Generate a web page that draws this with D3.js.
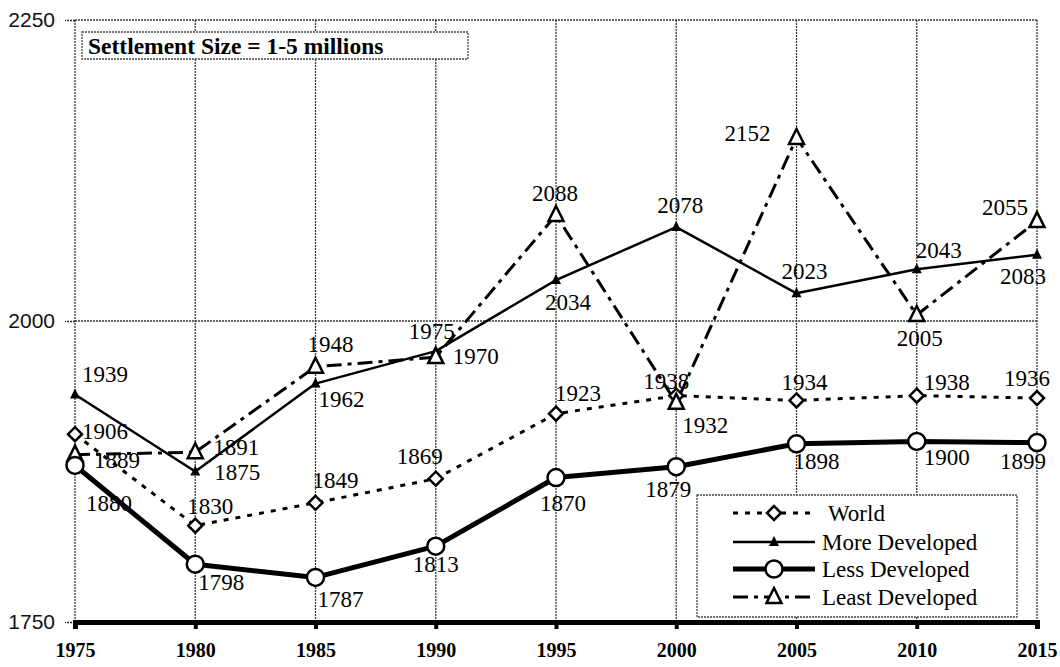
<!DOCTYPE html>
<html>
<head>
<meta charset="utf-8">
<script src="https://cdn.jsdelivr.net/npm/d3@7/dist/d3.min.js"></script>
<style>
  html, body { margin: 0; padding: 0; background: #fff; }
  svg { display: block; }
</style>
</head>
<body>
<svg id="chart" width="1060" height="667"></svg>
<script>
// ---- data ----
const years = [1975, 1980, 1985, 1990, 1995, 2000, 2005, 2010, 2015];
const world          = [1906, 1830, 1849, 1869, 1923, 1938, 1934, 1938, 1936];
const moreDeveloped  = [1939, 1875, 1948, 1975, 2034, 2078, 2023, 2043, 2055];
const lessDeveloped  = [1880, 1798, 1787, 1813, 1870, 1879, 1898, 1900, 1899];
const leastDeveloped = [1889, 1891, 1962, 1970, 2088, 1932, 2152, 2005, 2083];
const seriesNames = ["World", "More Developed", "Less Developed", "Least Developed"];
const yTicks = [1750, 2000, 2250];
const xTickLabels = ["1975", "1980", "1985", "1990", "1995", "2000", "2005", "2010", "2015"];
const titleText = "Settlement Size = 1-5 millions";

// ---- label placement (pixel offsets of each value label from its point) ----
const worldLabelOffsets = [[30,-3],[15,-20],[20,-23],[-16,-23],[22,-21],[-10,-15],[8,-19],[30,-14],[-10,-20]];
const moreLabelOffsets  = [[30,-20],[42,0],[15,-40],[-4,-20],[12,22],[4,-22],[8,-22],[22,-19],[-32,-48]];
const lessLabelOffsets  = [[34,37],[26,18],[25,21],[0,18],[7,25],[-8,22],[20,17],[30,16],[-14,18]];
const leastLabelOffsets = [[42,5],[41,-5],[26,32],[40,-1],[-1,-22],[29,22],[-49,-5],[3,23],[-14,55]];

// ---- layout ----
const plot = { left: 75, right: 1037, top: 20, bottom: 622 };
const serif = "'Liberation Serif', 'Times New Roman', serif";
const sans = "'Liberation Sans', Arial, sans-serif";

const svg = d3.select("#chart");
const x = d3.scaleLinear().domain([1975, 2015]).range([plot.left, plot.right]);
const y = d3.scaleLinear().domain([1750, 2250]).range([plot.bottom, plot.top]);

// ---- grid ----
const grid = svg.append("g").attr("stroke", "#3a3a3a").attr("stroke-width", 1.3)
  .attr("stroke-dasharray", "2,1").attr("fill", "none");
grid.selectAll("line.v").data(years).join("line").attr("class", "v")
  .attr("x1", d => x(d)).attr("x2", d => x(d))
  .attr("y1", plot.top).attr("y2", plot.bottom);
grid.selectAll("line.h").data(yTicks.filter(t => t !== 1750)).join("line").attr("class", "h")
  .attr("x1", plot.left).attr("x2", plot.right)
  .attr("y1", d => y(d)).attr("y2", d => y(d));

// ---- y axis (labels with short ticks) ----
const yAxis = svg.append("g").attr("transform", `translate(${plot.left},0)`)
  .call(d3.axisLeft(y).tickValues(yTicks).tickSize(10).tickPadding(10).tickFormat(d3.format("d")));
yAxis.select(".domain").remove();
yAxis.selectAll(".tick line").attr("stroke", "#222").attr("stroke-width", 1.3).attr("stroke-dasharray", "2,1");
yAxis.selectAll(".tick text").attr("font-family", sans).attr("font-size", 21).attr("fill", "#111");

// ---- x axis (thick baseline, bold labels) ----
const xAxis = svg.append("g").attr("transform", `translate(0,${plot.bottom})`)
  .call(d3.axisBottom(x).tickValues(years).tickSize(7).tickPadding(14)
    .tickFormat((d, i) => xTickLabels[i]));
xAxis.select(".domain").attr("stroke", "#000").attr("stroke-width", 5);
xAxis.selectAll(".tick line").attr("stroke", "#000").attr("stroke-width", 4);
xAxis.selectAll(".tick text").attr("font-family", serif).attr("font-weight", "bold")
  .attr("font-size", 20).attr("fill", "#000");

// ---- marker shapes ----
function diamondPath(s) { return `M0,${-s}L${s},0L0,${s}L${-s},0Z`; }
function trianglePath(w, h) { return `M0,${-h * 0.6}L${w / 2},${h * 0.4}L${-w / 2},${h * 0.4}Z`; }

const series = [
  { name: seriesNames[0], values: world, offsets: worldLabelOffsets,
    stroke: 3, dash: "5,7", marker: "diamond" },
  { name: seriesNames[1], values: moreDeveloped, offsets: moreLabelOffsets,
    stroke: 2.5, dash: null, marker: "smallTri" },
  { name: seriesNames[2], values: lessDeveloped, offsets: lessLabelOffsets,
    stroke: 5, dash: null, marker: "circle" },
  { name: seriesNames[3], values: leastDeveloped, offsets: leastLabelOffsets,
    stroke: 3, dash: "15,6,4,6", marker: "openTri" }
];

function drawMarker(g, kind) {
  if (kind === "diamond") {
    g.append("path").attr("d", diamondPath(7)).attr("fill", "#fff")
      .attr("stroke", "#000").attr("stroke-width", 2.5);
  } else if (kind === "smallTri") {
    g.append("path").attr("d", trianglePath(10, 10)).attr("fill", "#000");
  } else if (kind === "circle") {
    g.append("circle").attr("r", 8.5).attr("fill", "#fff")
      .attr("stroke", "#000").attr("stroke-width", 2.5);
  } else if (kind === "openTri") {
    g.append("path").attr("d", trianglePath(15, 15)).attr("fill", "#fff")
      .attr("stroke", "#000").attr("stroke-width", 2.5).attr("stroke-linejoin", "miter");
  }
}

const line = d3.line().x((d, i) => x(years[i])).y(d => y(d));

// lines first, then markers, then labels
const order = [0, 1, 3, 2];
order.forEach(k => {
  const s = series[k];
  svg.append("path").datum(s.values).attr("d", line)
    .attr("fill", "none").attr("stroke", "#000").attr("stroke-width", s.stroke)
    .attr("stroke-dasharray", s.dash).attr("stroke-linejoin", "round");
});
order.forEach(k => {
  const s = series[k];
  s.values.forEach((v, i) => {
    const g = svg.append("g").attr("transform", `translate(${x(years[i])},${y(v)})`);
    drawMarker(g, s.marker);
  });
});
series.forEach(s => {
  svg.append("g").selectAll("text").data(s.values).join("text")
    .attr("x", (d, i) => x(years[i]) + s.offsets[i][0])
    .attr("y", (d, i) => y(d) + s.offsets[i][1])
    .attr("dy", "0.35em").attr("text-anchor", "middle")
    .attr("font-family", serif).attr("font-size", 23).attr("fill", "#000")
    .text(d => d);
});

// ---- title box ----
const tb = svg.append("g");
tb.append("rect").attr("x", 82).attr("y", 32).attr("width", 386).attr("height", 27)
  .attr("fill", "#fff").attr("stroke", "#444").attr("stroke-width", 1.3).attr("stroke-dasharray", "2,1");
tb.append("text").attr("x", 88).attr("y", 54).attr("font-family", serif).attr("font-weight", "bold")
  .attr("font-size", 23.5).attr("fill", "#000").text(titleText);

// ---- legend ----
const lg = svg.append("g");
lg.append("rect").attr("x", 697).attr("y", 495).attr("width", 320).attr("height", 122)
  .attr("fill", "#fff").attr("stroke", "#444").attr("stroke-width", 1.3).attr("stroke-dasharray", "2,1");
const legendRows = [513, 542, 569, 597];
series.forEach((s, i) => {
  const ry = legendRows[i];
  lg.append("line").attr("x1", 733).attr("x2", 815).attr("y1", ry).attr("y2", ry)
    .attr("stroke", "#000").attr("stroke-width", s.stroke).attr("stroke-dasharray", s.dash);
  const g = lg.append("g").attr("transform", `translate(774,${ry})`);
  drawMarker(g, s.marker);
  lg.append("text").attr("x", i === 0 ? 828 : 822).attr("y", ry).attr("dy", "0.35em")
    .attr("font-family", serif).attr("font-size", 23).attr("fill", "#000").text(s.name);
});
</script>
</body>
</html>
